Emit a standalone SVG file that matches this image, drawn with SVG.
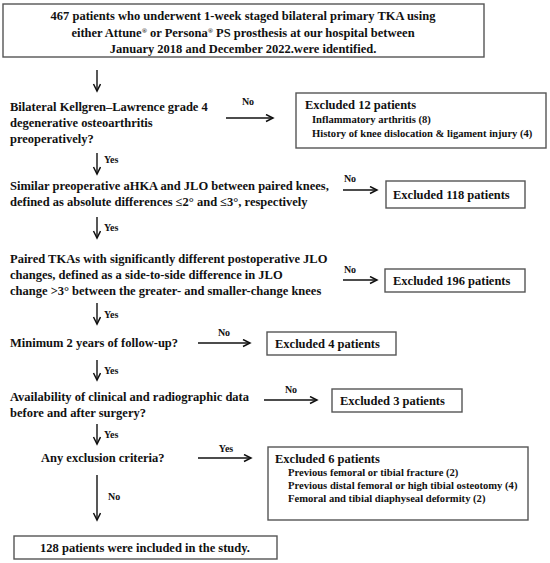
<svg xmlns="http://www.w3.org/2000/svg" width="550" height="563" viewBox="0 0 550 563">
<defs>
<style>
text{font-family:"Liberation Serif","Times New Roman",serif;font-weight:bold;fill:#111;}
.m{font-size:12.5px;}
.s{font-size:10.6px;}
.l{font-size:10px;}
.c{text-anchor:middle;}
.box{fill:#fff;stroke:#555;stroke-width:1.4;}
.ar{stroke:#111;stroke-width:1.4;fill:none;marker-end:url(#ah);}
</style>
<marker id="ah" markerUnits="userSpaceOnUse" markerWidth="10" markerHeight="10" refX="8" refY="4" orient="auto">
<path d="M1,0.5 L8,4 L1,7.5" fill="none" stroke="#111" stroke-width="1.5"/>
</marker>
</defs>
<rect width="550" height="563" fill="#fff"/>
<g id="start">
<rect class="box" x="3" y="4" width="481" height="53"/>
<text class="m c" x="243" y="20">467 patients who underwent 1-week staged bilateral primary TKA using</text>
<text class="m c" x="243" y="37">either Attune<tspan font-size="7" dy="-4">®</tspan><tspan dy="4"> or Persona</tspan><tspan font-size="7" dy="-4">®</tspan><tspan dy="4"> PS prosthesis at our hospital between</tspan></text>
<text class="m c" x="243" y="53">January 2018 and December 2022.were identified.</text>
</g>
<g id="q1">
<text class="m" x="10" y="111">Bilateral Kellgren–Lawrence grade 4</text>
<text class="m" x="10" y="127">degenerative osteoarthritis</text>
<text class="m" x="10" y="143">preoperatively?</text>
</g>
<g id="ex12">
<rect class="box" x="296" y="93" width="250" height="55"/>
<text class="m" x="305" y="109">Excluded 12 patients</text>
<text class="s" x="312" y="123">Inflammatory arthritis (8)</text>
<text class="s" x="312" y="137">History of knee dislocation &amp; ligament injury (4)</text>
</g>
<g id="q2">
<text class="m" x="10" y="190">Similar preoperative aHKA and JLO between paired knees,</text>
<text class="m" x="10" y="206">defined as absolute differences ≤2° and ≤3°, respectively</text>
</g>
<g id="ex118">
<rect class="box" x="386" y="181" width="139" height="27"/>
<text class="m" x="393" y="199">Excluded 118 patients</text>
</g>
<g id="q3">
<text class="m" x="10" y="263">Paired TKAs with significantly different postoperative JLO</text>
<text class="m" x="10" y="279">changes, defined as a side-to-side difference in JLO</text>
<text class="m" x="10" y="295">change &gt;3° between the greater- and smaller-change knees</text>
</g>
<g id="ex196">
<rect class="box" x="385" y="269" width="140" height="23"/>
<text class="m" x="393" y="285">Excluded 196 patients</text>
</g>
<g id="q4">
<text class="m" x="10" y="347">Minimum 2 years of follow-up?</text>
</g>
<g id="ex4">
<rect class="box" x="267" y="332" width="129" height="23"/>
<text class="m" x="275" y="348">Excluded 4 patients</text>
</g>
<g id="q5">
<text class="m" x="10" y="401">Availability of clinical and radiographic data</text>
<text class="m" x="10" y="417">before and after surgery?</text>
</g>
<g id="ex3">
<rect class="box" x="332" y="389" width="130" height="23"/>
<text class="m" x="340" y="405">Excluded 3 patients</text>
</g>
<g id="q6">
<text class="m" x="41" y="462">Any exclusion criteria?</text>
</g>
<g id="ex6">
<rect class="box" x="268" y="447" width="260" height="73"/>
<text class="m" x="275" y="463">Excluded 6 patients</text>
<text class="s" x="288" y="476">Previous femoral or tibial fracture (2)</text>
<text class="s" x="288" y="489">Previous distal femoral or high tibial osteotomy (4)</text>
<text class="s" x="288" y="502">Femoral and tibial diaphyseal deformity (2)</text>
</g>
<g id="final">
<rect class="box" x="14" y="536" width="263" height="23"/>
<text class="m c" x="145" y="552">128 patients were included in the study.</text>
</g>
<g id="connectors">
<line class="ar" x1="97" y1="70" x2="97" y2="91"/>
<line class="ar" x1="97" y1="153" x2="97" y2="174"/>
<line class="ar" x1="97" y1="217" x2="97" y2="238"/>
<line class="ar" x1="97" y1="303" x2="97" y2="324"/>
<line class="ar" x1="97" y1="360" x2="97" y2="380"/>
<line class="ar" x1="97" y1="424" x2="97" y2="444"/>
<line class="ar" x1="97" y1="475" x2="97" y2="520"/>
<line class="ar" x1="226" y1="118" x2="273" y2="118"/>
<line class="ar" x1="343" y1="190" x2="377" y2="190"/>
<line class="ar" x1="343" y1="280" x2="377" y2="280"/>
<line class="ar" x1="198" y1="343" x2="250" y2="343"/>
<line class="ar" x1="264" y1="400" x2="317" y2="400"/>
<line class="ar" x1="198" y1="458" x2="251" y2="458"/>
<text class="l" x="104" y="163">Yes</text>
<text class="l" x="104" y="231">Yes</text>
<text class="l" x="104" y="318">Yes</text>
<text class="l" x="104" y="374">Yes</text>
<text class="l" x="104" y="438">Yes</text>
<text class="l" x="108" y="500">No</text>
<text class="l c" x="248" y="105">No</text>
<text class="l c" x="350" y="182">No</text>
<text class="l c" x="350" y="273">No</text>
<text class="l c" x="224" y="336">No</text>
<text class="l c" x="291" y="393">No</text>
<text class="l c" x="226" y="452">Yes</text>
</g>
</svg>
